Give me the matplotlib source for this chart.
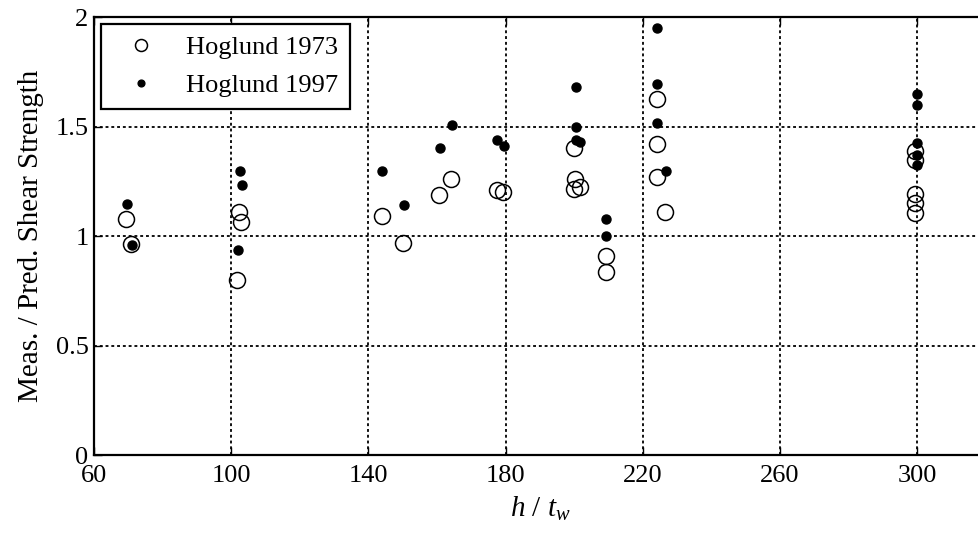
import matplotlib
matplotlib.use("Agg")
import matplotlib.pyplot as plt

x_1973 = [69.2, 70.8, 102.3, 103.0, 101.8, 143.9, 150.0, 160.5, 164.0, 177.4, 179.3,
          199.9, 200.2, 199.9, 201.7, 209.2, 209.2, 224.0, 224.0, 224.0, 226.5,
          299.4, 299.4, 299.4, 299.4, 299.4]
y_1973 = [1.08, 0.963, 1.111, 1.065, 0.802, 1.093, 0.967, 1.190, 1.263, 1.213, 1.202,
          1.405, 1.263, 1.218, 1.225, 0.909, 0.837, 1.629, 1.420, 1.271, 1.111,
          1.388, 1.347, 1.195, 1.153, 1.106]

x_1997 = [69.5, 71.2, 102.6, 103.1, 102.1, 143.9, 150.4, 160.9, 164.3, 177.6, 179.5,
          200.4, 200.4, 200.6, 201.6, 209.3, 209.3, 224.2, 224.2, 224.2, 226.8,
          300.0, 300.0, 300.0, 300.0, 300.0]
y_1997 = [1.145, 0.959, 1.297, 1.233, 0.936, 1.298, 1.142, 1.405, 1.507, 1.441, 1.413,
          1.682, 1.499, 1.440, 1.430, 1.078, 1.001, 1.951, 1.697, 1.515, 1.297,
          1.651, 1.598, 1.426, 1.370, 1.324]

x_ticks = [60, 100, 140, 180, 220, 260, 300]
y_ticks = [0, 0.5, 1, 1.5, 2]
y_labels = ["0", "0.5", "1", "1.5", "2"]

plt.rcParams["font.family"] = ["Liberation Serif", "DejaVu Serif"]
plt.rcParams["mathtext.fontset"] = "custom"
plt.rcParams["mathtext.rm"] = "Liberation Serif"
plt.rcParams["mathtext.it"] = "Liberation Serif:italic"

fig = plt.figure(figsize=(9.79, 5.40), dpi=100)
ax = fig.add_axes([0.096, 0.157, 0.911, 0.811])

ax.plot(x_1973, y_1973, "o", ls="none", ms=11.5, mfc="none", mec="black", mew=1.1,
        label="Hoglund 1973", zorder=3)
ax.plot(x_1997, y_1997, "o", ls="none", ms=6.5, mfc="black", mec="black",
        label="Hoglund 1997", zorder=4)

ax.set_xlim(60, 320)
ax.set_ylim(0, 2)
ax.set_xticks(x_ticks)
ax.set_yticks(y_ticks)
ax.set_yticklabels(y_labels)
ax.tick_params(direction="in", length=6, width=1.0, labelsize=19,
               top=True, right=True)
ax.tick_params(axis="x", pad=7)
ax.tick_params(axis="y", pad=4)
ax.grid(True, color="black", ls=(0, (1.6, 1.6)), lw=1.3)
for s in ax.spines.values():
    s.set_linewidth(1.6)

ax.set_ylabel("Meas. / Pred. Shear Strength", fontsize=21, labelpad=8)
ax.set_xlabel(r"$h$ / $t_{w}$", fontsize=21, labelpad=6)

leg = ax.legend(loc="upper left", fontsize=19, frameon=True, fancybox=False,
                borderaxespad=0.25, handletextpad=0.6, markerscale=0.75,
                borderpad=0.45, labelspacing=0.55, handlelength=2.2)
leg.get_frame().set_edgecolor("black")
leg.get_frame().set_linewidth(1.6)
leg.get_frame().set_alpha(1)

fig.savefig("out.png", dpi=100)
